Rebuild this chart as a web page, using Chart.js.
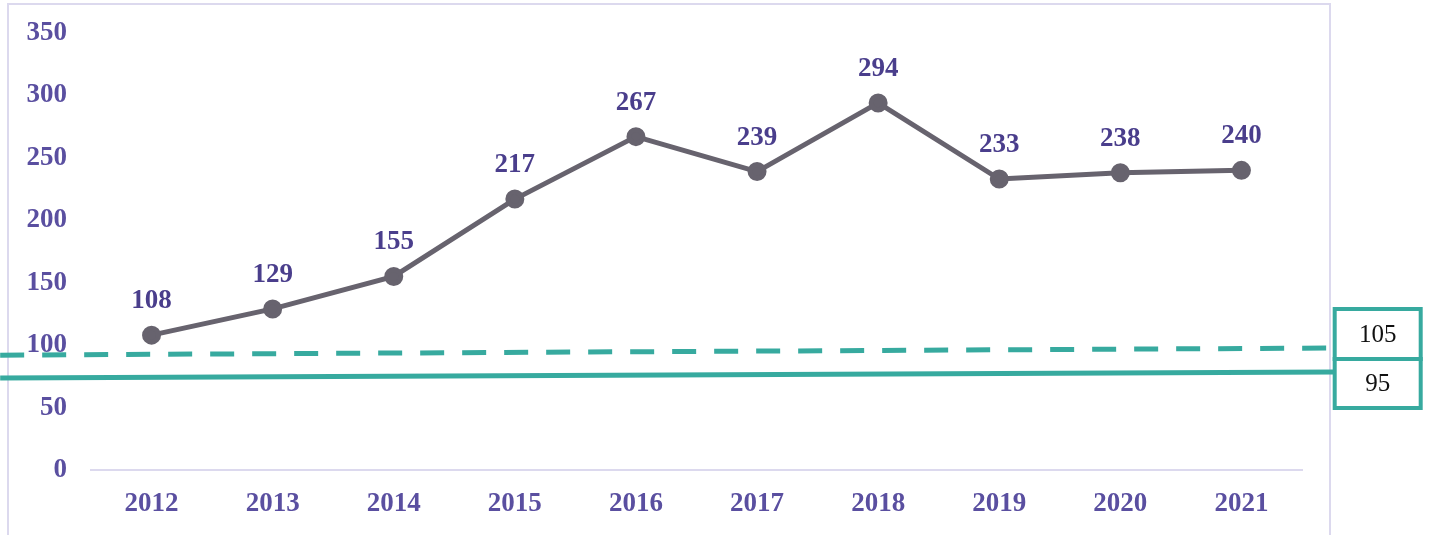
<!DOCTYPE html>
<html>
<head>
<meta charset="utf-8">
<script src="https://cdn.jsdelivr.net/npm/chart.js@4/dist/chart.umd.min.js"></script>
<style>
  html, body { margin: 0; padding: 0; background: #fff; }
  #wrap { position: relative; width: 1429px; height: 535px; }
  #frame { position: absolute; left: 7px; top: 3px; width: 1324px; height: 536px; border: 2px solid #dcd9ee; box-sizing: border-box; pointer-events: none; }
  canvas { position: absolute; left: 0; top: 0; }
</style>
</head>
<body>
<div id="wrap">
  <div id="frame"></div>
  <canvas id="chart" width="1429" height="535"></canvas>
</div>
<script>
const years = ["2012", "2013", "2014", "2015", "2016", "2017", "2018", "2019", "2020", "2021"];
const values = [108, 129, 155, 217, 267, 239, 294, 233, 238, 240];
const yTicks = [0, 50, 100, 150, 200, 250, 300, 350];
// reference lines as drawn (slightly sloped), x in category units
const upperLine = [{ x: -1.25, y: 92 }, { x: 9.77, y: 97.7 }];
const lowerLine = [{ x: -1.25, y: 73.7 }, { x: 9.77, y: 78.5 }];
const lineLabels = ["105", "95"];

const tickColor = "#5a4fa0";
const labelColor = "#4a3e8c";
const teal = "#37aa9f";
const serif = "'Liberation Serif', 'Times New Roman', serif";

const pointLabels = {
  id: "pointLabels",
  afterDatasetsDraw(chart) {
    const ctx = chart.ctx;
    const meta = chart.getDatasetMeta(0);
    ctx.save();
    ctx.font = "bold 27px " + serif;
    ctx.fillStyle = labelColor;
    ctx.textAlign = "center";
    ctx.textBaseline = "middle";
    meta.data.forEach((pt, i) => {
      ctx.fillText(values[i], pt.x, pt.y - 34);
    });
    ctx.restore();
  },
};

const lineBoxes = {
  id: "lineBoxes",
  afterDraw(chart) {
    const ctx = chart.ctx;
    const left = chart.scales.x2.getPixelForValue(upperLine[1].x);
    const w = 86;
    const boxes = [
      { top: 309, bottom: 359, text: lineLabels[0] },
      { top: 359, bottom: 408, text: lineLabels[1] },
    ];
    ctx.save();
    ctx.strokeStyle = teal;
    ctx.lineWidth = 4;
    ctx.font = "25px " + serif;
    ctx.textAlign = "center";
    ctx.textBaseline = "middle";
    boxes.forEach((b) => {
      ctx.fillStyle = "#fff";
      ctx.fillRect(left, b.top, w, b.bottom - b.top);
      ctx.strokeRect(left, b.top, w, b.bottom - b.top);
      ctx.fillStyle = "#111";
      ctx.fillText(b.text, left + w / 2, (b.top + b.bottom) / 2 + 1);
    });
    ctx.restore();
  },
};

new Chart(document.getElementById("chart"), {
  type: "line",
  data: {
    labels: years,
    datasets: [
      {
        data: values,
        borderColor: "#67636e",
        backgroundColor: "#67636e",
        borderWidth: 5,
        pointRadius: 7,
        pointHoverRadius: 7,
        tension: 0,
        order: 0,
      },
      {
        data: upperLine,
        xAxisID: "x2",
        borderColor: teal,
        borderWidth: 5,
        borderDash: [24, 18],
        pointRadius: 0,
        clip: false,
        order: 1,
      },
      {
        data: lowerLine,
        xAxisID: "x2",
        borderColor: teal,
        borderWidth: 5,
        pointRadius: 0,
        clip: false,
        order: 1,
      },
    ],
  },
  options: {
    responsive: false,
    animation: false,
    layout: { padding: { left: 0, right: 127, top: 33, bottom: 0 } },
    plugins: { legend: { display: false }, tooltip: { enabled: false } },
    scales: {
      x: {
        offset: true,
        afterFit: (scale) => { scale.height = 65; scale.paddingLeft = 0; scale.paddingRight = 0; },
        grid: { display: false, drawTicks: false },
        border: { display: true, color: "#dcd9ee", width: 2 },
        ticks: { color: tickColor, font: { family: serif, size: 27, weight: "bold" }, padding: 18 },
      },
      x2: {
        type: "linear",
        display: false,
        min: -0.5,
        max: 9.5,
      },
      y: {
        min: 0,
        max: 350,
        afterBuildTicks: (scale) => { scale.ticks = yTicks.map((v) => ({ value: v })); },
        afterFit: (scale) => { scale.width = 91; scale.paddingTop = 0; scale.paddingBottom = 0; },
        grid: { display: false, drawTicks: false },
        border: { display: false },
        ticks: { color: tickColor, font: { family: serif, size: 27, weight: "bold" }, padding: 24 },
      },
    },
  },
  plugins: [pointLabels, lineBoxes],
});
</script>
</body>
</html>
